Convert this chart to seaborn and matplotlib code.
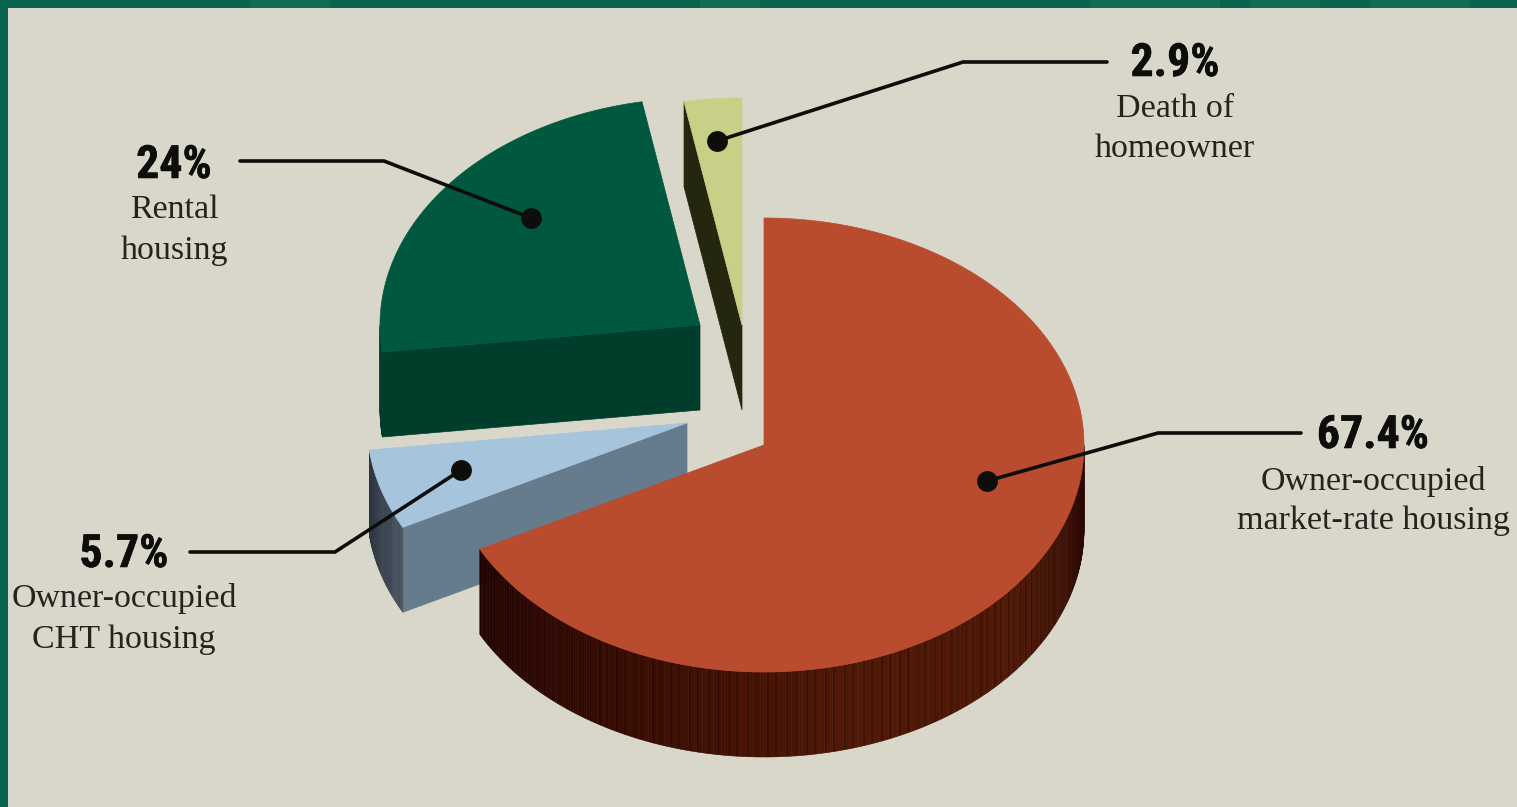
import numpy as np
import matplotlib
matplotlib.use("Agg")
import matplotlib.pyplot as plt
import matplotlib.patheffects as pe
from matplotlib import font_manager
from matplotlib.patches import Polygon, Rectangle
import seaborn as sns

# Reasons shares, clockwise from twelve o'clock
categories = ["Owner-occupied\nmarket-rate housing", "Owner-occupied\nCHT housing",
              "Rental\nhousing", "Death of\nhomeowner"]
shares = [67.4, 5.7, 24, 2.9]

# Exploded apex of every slice and its colours
apexes = [(764, 445), (687, 423), (700, 325), (742, 325)]
top_colors = ["#b94b2e", "#a6c5dd", "#00593f", "#c8cf86"]
face_colors = ["#4a1404", "#667b8c", "#003d2b", "#25260f"]
rim_ramps = [["#2a0500", "#4f1705", "#4f1705", "#3a0c02", "#230400"],
             ["#46525e", "#2b3441"], ["#003d2b", "#003d2b"], ["#25260f", "#25260f"]]

# Callout geometry: leader path from the text side to the dot, and text anchors
leaders = [[(1301, 433), (1158, 433), (987, 481)],
           [(190, 552), (335, 552), (461, 470)],
           [(240, 161), (384, 161), (531, 218)],
           [(1107, 62), (963, 62), (717, 141)]]
label_x = [1373, 124, 174, 1175]
value_base = [448, 567, 178, 76]
line_bases = [(490, 529), (607, 648), (218, 259), (117, 157)]

RX, RY, DEPTH = 320, 227, 85
BG, BORDER, INK = "#d8d7ca", "#0a634f", "#0d0d0a"

sns.set_theme(style="white", rc={"axes.facecolor": BG, "figure.facecolor": BORDER})
plt.rcParams["font.family"] = ["Liberation Serif", "DejaVu Serif"]


def first_installed(names):
    """Return the first family that is really available on this machine."""
    for name in names:
        try:
            font_manager.findfont(name, fallback_to_default=False)
            return name
        except ValueError:
            continue
    return "DejaVu Sans"


VALUE_FONT = first_installed(["Liberation Sans Narrow", "Roboto Condensed",
                              "Open Sans Condensed", "Liberation Sans"])

fig = plt.figure(figsize=(15.17, 8.07), dpi=100)
ax = fig.add_axes([0, 0, 1, 1])
ax.set_xlim(0, 1517)
ax.set_ylim(807, 0)
ax.axis("off")

# Green frame with faint foliage patches, and the pale panel over it
for x0, w in [(250, 80), (700, 60), (1090, 130), (1250, 70), (1370, 100)]:
    ax.add_patch(Rectangle((x0, 0), w, 8, fc="#126c55", ec="none", zorder=0))
ax.add_patch(Rectangle((8, 8), 1509, 799, fc=BG, ec="none", zorder=1))


def rim_point(apex, turn, drop=0.0):
    """Point on a slice's ellipse edge, `turn` in degrees clockwise from the top."""
    t = np.radians(turn)
    return apex[0] + RX * np.sin(t), apex[1] - RY * np.cos(t) + drop


def draw_slice(apex, start, end, top, face, ramp, z):
    # Straight cut wall on the leading edge of the slice
    sx, sy = rim_point(apex, start)
    wall = [apex, (sx, sy), (sx, sy + DEPTH), (apex[0], apex[1] + DEPTH)]
    ax.add_patch(Polygon(wall, closed=True, fc=face, ec=face, lw=0.5, zorder=z))

    # Curved outer wall, only where it faces the viewer, in fine vertical strips
    lo, hi = max(start, 90), min(end, 270)
    if hi > lo:
        n = max(int((hi - lo) * 2), 2)
        edges = np.linspace(lo, hi, n + 1)
        ramp_colors = sns.blend_palette(ramp, n)
        for i in range(n):
            a = rim_point(apex, edges[i])
            b = rim_point(apex, edges[i + 1])
            shade = np.array(ramp_colors[i])
            if len(ramp) > 2:
                shade = shade * (0.8 if i % 7 in (0, 3) else 1.0)
            strip = [a, b, (b[0], b[1] + DEPTH), (a[0], a[1] + DEPTH)]
            ax.add_patch(Polygon(strip, closed=True, fc=shade, ec=shade, lw=0.4, zorder=z + 0.1))

    # Elliptical top surface
    turns = np.linspace(start, end, 240)
    outline = [apex] + [rim_point(apex, t) for t in turns]
    ax.add_patch(Polygon(outline, closed=True, fc=top, ec=top, lw=0.5, zorder=z + 0.2))


bounds = np.concatenate([[0], np.cumsum(shares)]) / np.sum(shares) * 360
draw_order = [3, 2, 1, 0]
for rank, i in enumerate(draw_order):
    draw_slice(apexes[i], bounds[i], bounds[i + 1], top_colors[i], face_colors[i],
               rim_ramps[i], 2 + rank)

# Leaders, dots and callout text
for i, path in enumerate(leaders):
    xs, ys = zip(*path)
    ax.plot(xs, ys, color=INK, lw=2.6, solid_capstyle="round", solid_joinstyle="miter", zorder=10)
    ax.plot(xs[-1], ys[-1], "o", ms=15, color=INK, mew=0, zorder=11)
    value = ax.text(label_x[i], value_base[i], f"{shares[i]:g}%", ha="center", va="baseline",
                    fontsize=33, fontweight="bold", color=INK, family=[VALUE_FONT, "DejaVu Sans"],
                    zorder=12)
    value.set_path_effects([pe.withStroke(linewidth=0.4, foreground=INK)])
    for text, base in zip(categories[i].split("\n"), line_bases[i]):
        ax.text(label_x[i], base, text, ha="center", va="baseline", fontsize=24.5,
                color="#24241f", zorder=12)

fig.savefig("out.png", dpi=100, facecolor=BORDER)
